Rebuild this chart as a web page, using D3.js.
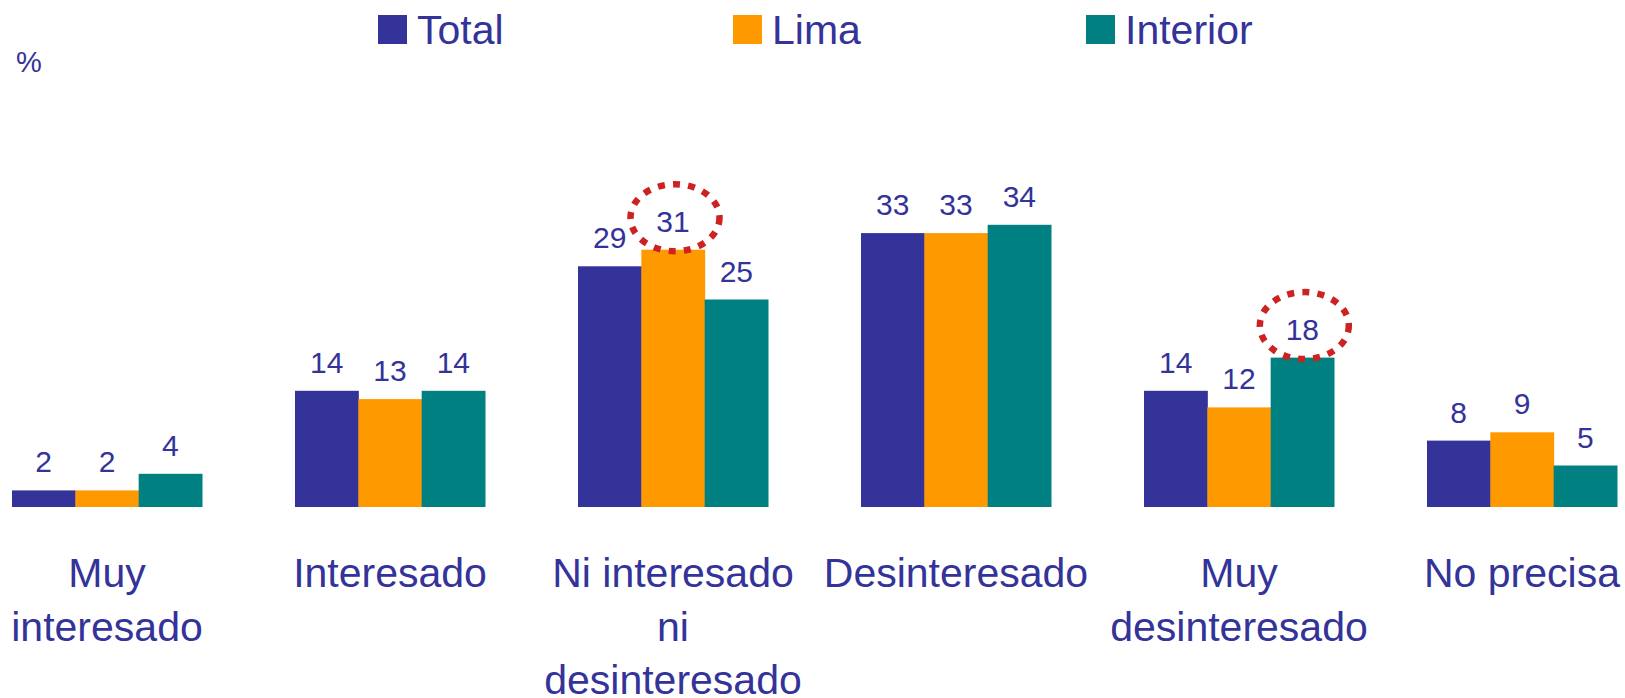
<!DOCTYPE html>
<html>
<head>
<meta charset="utf-8">
<script src="https://cdn.jsdelivr.net/npm/d3@7"></script>
<style>
  html, body { margin: 0; padding: 0; background: #ffffff; }
  svg { display: block; }
  text { font-family: "Liberation Sans", Arial, sans-serif; fill: #333399; }
</style>
</head>
<body>
<svg id="chart" width="1625" height="698"></svg>
<script>
// ---- Data ----
const categories = ["Muy interesado", "Interesado", "Ni interesado ni desinteresado", "Desinteresado", "Muy desinteresado", "No precisa"];
const categoryLines = [["Muy", "interesado"], ["Interesado"], ["Ni interesado", "ni", "desinteresado"], ["Desinteresado"], ["Muy", "desinteresado"], ["No precisa"]];
const seriesNames = ["Total", "Lima", "Interior"];
const totalValues = [2, 14, 29, 33, 14, 8];
const limaValues = [2, 13, 31, 33, 12, 9];
const interiorValues = [4, 14, 25, 34, 18, 5];
const seriesColors = ["#333399", "#FF9900", "#008080"];
const highlighted = [["Ni interesado ni desinteresado", "Lima"], ["Muy desinteresado", "Interior"]];
const unitLabel = "%";

const seriesValues = [totalValues, limaValues, interiorValues];
const rows = [];
categories.forEach((c, i) => {
  seriesNames.forEach((s, j) => rows.push({ cat: c, series: s, value: seriesValues[j][i] }));
});

const svg = d3.select("#chart");

// ---- Scales ----
const x = d3.scaleBand().domain(categories).range([-34.5, 1663.5]).paddingInner(0.3286).paddingOuter(0.1643);
const xs = d3.scaleBand().domain(seriesNames).range([0, x.bandwidth()]).padding(0);
const y = d3.scaleLinear().domain([0, 60]).range([507, 9]);
const color = d3.scaleOrdinal().domain(seriesNames).range(seriesColors);

// ---- Bars ----
svg.append("g").selectAll("rect").data(rows).join("rect")
  .attr("x", d => x(d.cat) + xs(d.series))
  .attr("width", xs.bandwidth() + 0.5)
  .attr("y", d => y(d.value))
  .attr("height", d => y(0) - y(d.value))
  .attr("fill", d => color(d.series));

// ---- Value labels ----
svg.append("g").selectAll("text").data(rows).join("text")
  .attr("x", d => x(d.cat) + xs(d.series) + xs.bandwidth() / 2)
  .attr("y", d => y(d.value) - 18)
  .attr("text-anchor", "middle")
  .attr("font-size", 30)
  .text(d => d.value);

// ---- Highlight ellipses ----
const hl = rows.filter(d => highlighted.some(h => h[0] === d.cat && h[1] === d.series));
svg.append("g").selectAll("ellipse").data(hl).join("ellipse")
  .attr("cx", d => x(d.cat) + xs(d.series) + xs.bandwidth() / 2 + 2)
  .attr("cy", d => y(d.value) - 32)
  .attr("rx", 44.5)
  .attr("ry", 33.5)
  .attr("fill", "none")
  .attr("stroke", "#CC2222")
  .attr("stroke-width", 6.5)
  .attr("stroke-dasharray", "7 8.2");

// ---- Category labels ----
const catG = svg.append("g").selectAll("text").data(categories).join("text")
  .attr("text-anchor", "middle")
  .attr("font-size", 41);
catG.each(function (c, i) {
  const t = d3.select(this);
  categoryLines[i].forEach((line, k) => {
    t.append("tspan")
      .attr("x", x(c) + x.bandwidth() / 2)
      .attr("y", 587 + k * 53.5)
      .text(line);
  });
});

// ---- Unit label ----
svg.append("text").attr("x", 16).attr("y", 72).attr("font-size", 29).text(unitLabel);

// ---- Legend ----
const legendX = [378, 733, 1086];
const leg = svg.append("g").selectAll("g").data(seriesNames).join("g")
  .attr("transform", (d, i) => `translate(${legendX[i]},0)`);
leg.append("rect").attr("x", 0).attr("y", 15).attr("width", 29).attr("height", 29)
  .attr("fill", d => color(d));
leg.append("text").attr("x", 39).attr("y", 44).attr("font-size", 41).text(d => d);
</script>
</body>
</html>
